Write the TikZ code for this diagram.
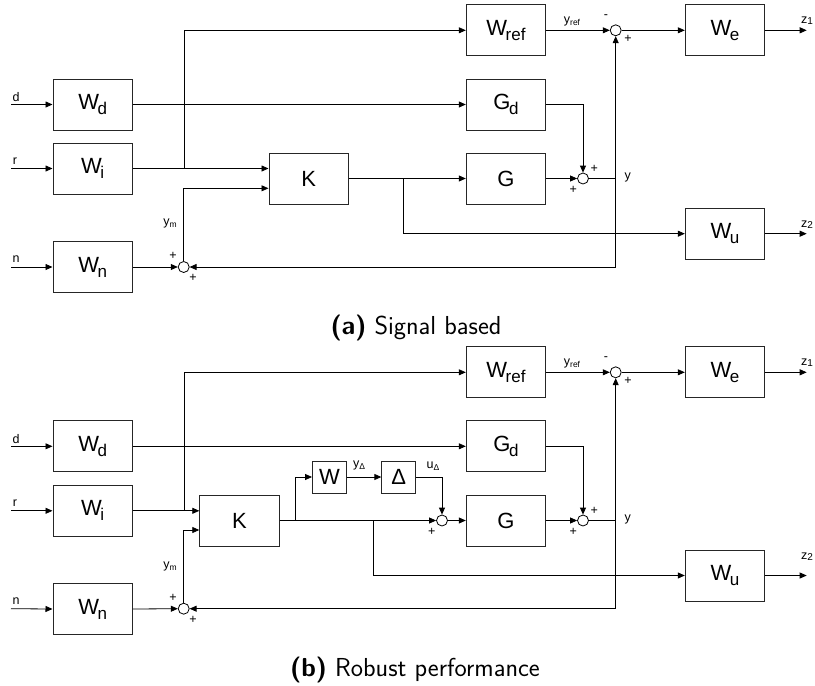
\documentclass[tikz,border=0pt]{standalone}
\usepackage{fontspec}
\newfontfamily\arialf{Liberation Sans}
\usetikzlibrary{arrows.meta}
\newcommand{\blkfont}{\arialf\fontsize{22}{22}\selectfont}
\newcommand{\lblfont}{\arialf\fontsize{12.5}{12.5}\selectfont}
\newcommand{\bsub}[1]{\kern-1.5pt\raisebox{-5pt}{\fontsize{17}{17}\selectfont #1}}
\newcommand{\lsub}[1]{\raisebox{-2pt}{\fontsize{8.5}{8.5}\selectfont #1}}
\newcommand{\zsub}[1]{\raisebox{-1pt}{\fontsize{10}{10}\selectfont #1}}
\tikzset{
  blk/.style={draw=black!85, line width=0.9pt, minimum width=79.5pt, minimum height=51pt, inner sep=0pt, font=\blkfont},
  sblk/.style={blk, minimum width=34pt, minimum height=32pt},
  sumc/.style={circle, draw, line width=0.8pt, minimum size=11pt, inner sep=0pt},
  sig/.style={-{Triangle[length=7pt,width=6pt]}, line width=0.8pt},
  lbl/.style={font=\lblfont, inner sep=0pt},
  captxt/.style={font=\sffamily\fontsize{26}{30}\selectfont, anchor=base, inner sep=0pt}
}
\begin{document}
\begin{tikzpicture}[x=1pt, y=-1pt]
\useasboundingbox (0,0) rectangle (815,686);
%% ---------------- (a) ----------------
\node[blk] (aWd) at (92.7,104.5) {W\bsub{d}};
\node[blk] (aWi) at (92.7,168.5) {W\bsub{i}};
\node[blk] (aWn) at (92.7,267) {W\bsub{n}};
\node[blk] (aK) at (308.7,178.5) {K};
\node[blk] (aWref) at (506,30.3) {W\bsub{ref}};
\node[blk] (aGd) at (506,104.5) {G\bsub{d}};
\node[blk] (aG) at (506,178.5) {G};
\node[blk] (aWe) at (725,30.3) {W\bsub{e}};
\node[blk] (aWu) at (725,233.7) {W\bsub{u}};
\node[sumc] (asm) at (183.7,267) {};
\node[sumc] (ase) at (615.7,30.3) {};
\node[sumc] (asy) at (583,178.5) {};
\coordinate (ad) at (11,104.5);
\coordinate (ar) at (11,168.5);
\coordinate (an) at (11,267);
\coordinate (abr) at (184.3,168.5);
\coordinate (aym) at (183.7,188.3);
\coordinate (abu) at (403.3,178.5);
\coordinate (ay) at (615.7,178.5);
\coordinate (az1) at (806.7,30.3);
\coordinate (az2) at (806.7,233.7);
\draw[sig] (ad) -- (aWd.west);
\draw[sig] (ar) -- (aWi.west);
\draw[sig] (an) -- (aWn.west);
\draw[sig] (aWd.east) -- (aGd.west);
\draw[sig] (aWi.east) -- (aK.west |- aWi.east);
\draw[sig] (abr) |- (aWref.west);
\draw[sig] (aWn.east) -- (asm.west);
\draw[sig] (asm.north) |- (aK.west |- aym);
\draw[sig] (aK.east) -- (aG.west);
\draw[sig] (abu) |- (aWu.west);
\draw[sig] (aG.east) -- (asy.west);
\draw[sig] (aGd.east) -| (asy.north);
\draw[sig] (asy.east) -| (ase.south);
\draw[sig] (ay) |- (asm.east);
\draw[sig] (aWref.east) -- (ase.west);
\draw[sig] (ase.east) -- (aWe.west);
\draw[sig] (aWe.east) -- (az1);
\draw[sig] (aWu.east) -- (az2);
\node[lbl] (ald) at (16,97) {d};
\node[lbl] (alr) at (15,161) {r};
\node[lbl] (aln) at (16,259) {n};
\node[lbl] (alyref) at (572,21) {y\lsub{ref}};
\node[lbl] (alm1) at (606,17) {-};
\node[lbl] (alp1) at (628,39) {+};
\node[lbl] (alp2) at (594.3,169) {+};
\node[lbl] (alp3) at (573.3,190) {+};
\node[lbl] (aly) at (627.7,177) {y};
\node[lbl] (alym) at (170,223) {y\lsub{m}};
\node[lbl] (alp4) at (173,256) {+};
\node[lbl] (alp5) at (193,278) {+};
\node[lbl] (alz1) at (807,21) {z\zsub{1}};
\node[lbl] (alz2) at (807,225) {z\zsub{2}};
\node[captxt] (acap) at (416,334) {{\bfseries (a)} Signal based};
%% ---------------- (b) ----------------
\node[blk] (bWd) at (92.7,446.3) {W\bsub{d}};
\node[blk] (bWi) at (92.7,510.8) {W\bsub{i}};
\node[blk] (bWn) at (92.7,609) {W\bsub{n}};
\node[blk] (bK) at (239.5,520.5) {K};
\node[sblk] (bW) at (329.5,477) {W};
\node[sblk] (bD) at (398.8,477) {Δ};
\node[blk] (bWref) at (506,372.3) {W\bsub{ref}};
\node[blk] (bGd) at (506,446.3) {G\bsub{d}};
\node[blk] (bG) at (506,520.5) {G};
\node[blk] (bWe) at (725,372.3) {W\bsub{e}};
\node[blk] (bWu) at (725,575.5) {W\bsub{u}};
\node[sumc] (bsm) at (183.7,608.7) {};
\node[sumc] (bse) at (615.7,372.3) {};
\node[sumc] (bsu) at (442,520.5) {};
\node[sumc] (bsy) at (583,520.5) {};
\coordinate (bd) at (11,446.3);
\coordinate (br) at (11,510.8);
\coordinate (bn) at (11,608.7);
\coordinate (bbr) at (184.3,510.8);
\coordinate (bym) at (183.7,530);
\coordinate (bbw) at (295.7,520.5);
\coordinate (bbu) at (373.3,520.5);
\coordinate (by) at (615.7,520.5);
\coordinate (bz1) at (806.7,372.3);
\coordinate (bz2) at (806.7,575.5);
\draw[sig] (bd) -- (bWd.west);
\draw[sig] (br) -- (bWi.west);
\draw[sig] (bn) -- (bWn.west);
\draw[sig] (bWd.east) -- (bGd.west);
\draw[sig] (bWi.east) -- (bK.west |- bWi.east);
\draw[sig] (bbr) |- (bWref.west);
\draw[sig] (bWn.east) -- (bsm.west);
\draw[sig] (bsm.north) |- (bK.west |- bym);
\draw[sig] (bK.east) -- (bsu.west);
\draw[sig] (bbw) |- (bW.west);
\draw[sig] (bW.east) -- (bD.west);
\draw[sig] (bD.east) -| (bsu.north);
\draw[sig] (bbu) |- (bWu.west);
\draw[sig] (bsu.east) -- (bG.west);
\draw[sig] (bG.east) -- (bsy.west);
\draw[sig] (bGd.east) -| (bsy.north);
\draw[sig] (bsy.east) -| (bse.south);
\draw[sig] (by) |- (bsm.east);
\draw[sig] (bWref.east) -- (bse.west);
\draw[sig] (bse.east) -- (bWe.west);
\draw[sig] (bWe.east) -- (bz1);
\draw[sig] (bWu.east) -- (bz2);
\node[lbl] (bld) at (16,439) {d};
\node[lbl] (blr) at (15,503) {r};
\node[lbl] (bln) at (16,601) {n};
\node[lbl] (blyref) at (572,363.5) {y\lsub{ref}};
\node[lbl] (blm1) at (606,359) {-};
\node[lbl] (blp1) at (628,381) {+};
\node[lbl] (blp2) at (594.3,511) {+};
\node[lbl] (blp3) at (573.3,532.3) {+};
\node[lbl] (bly) at (627.7,519) {y};
\node[lbl] (blym) at (170,566) {y\lsub{m}};
\node[lbl] (blp4) at (173,598) {+};
\node[lbl] (blp5) at (193,620) {+};
\node[lbl] (blp6) at (431.7,532.3) {+};
\node[lbl] (blyd) at (359,465.5) {y\lsub{Δ}};
\node[lbl] (blud) at (433,466.5) {u\lsub{Δ}};
\node[lbl] (blz1) at (807,363) {z\zsub{1}};
\node[lbl] (blz2) at (807,557) {z\zsub{2}};
\node[captxt] (bcap) at (415,676) {{\bfseries (b)} Robust performance};
\end{tikzpicture}
\end{document}
